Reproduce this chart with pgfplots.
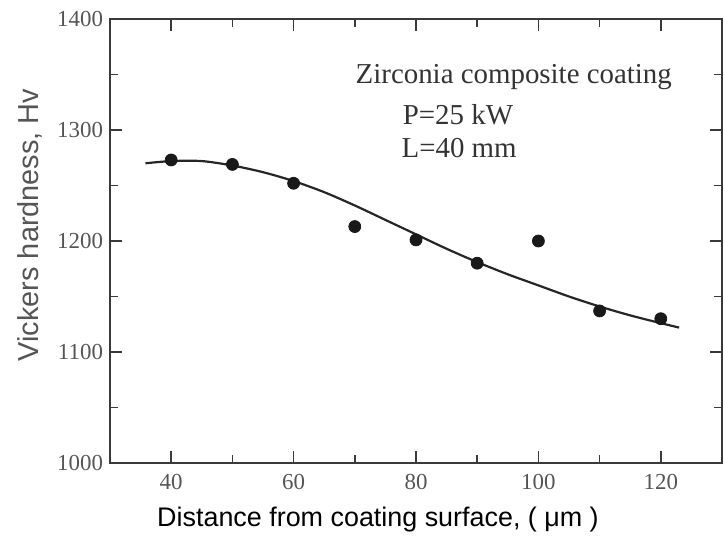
\documentclass[border=0pt]{standalone}
\usepackage{fontspec}
\setmainfont{Liberation Serif}
\newfontfamily\arial{Liberation Sans}
\usepackage{pgfplots}
\pgfplotsset{compat=1.18}
\usetikzlibrary{calc}
\definecolor{axgray}{HTML}{3A3A3A}
\definecolor{lblgray}{HTML}{555555}

\begin{document}
\begin{tikzpicture}
\begin{axis}[
  scale only axis,
  width=306bp, height=222bp,
  xmin=30, xmax=130, ymin=1000, ymax=1400,
  xtick={40,60,80,100,120}, minor xtick={50,70,90,110},
  ytick={1000,1100,1200,1300,1400}, minor ytick={1050,1150,1250,1350},
  tick align=inside,
  major tick length=6bp, minor tick length=4bp,
  axis line style={axgray, line width=0.9pt},
  every tick/.style={axgray, line width=0.8pt},
  tick label style={font=\fontsize{11.5}{13}\selectfont, text=lblgray},
  /pgf/number format/assume math mode=true,
  /pgf/number format/1000 sep={},
  xticklabel style={yshift=-2bp},
  clip=false,
]
% fitted curve
\addplot[smooth, tension=0.5, black!85, line width=1.1pt] coordinates {
  (35.8,1270) (40,1272) (45,1272) (50,1268) (55,1262) (60,1254)
  (65,1244) (70,1232) (75,1219) (80,1206) (85,1193) (90,1181)
  (95,1170) (100,1160) (105,1150) (110,1141) (115,1133) (120,1126)
  (123,1122)
};
% measured hardness
\addplot[only marks, mark=*, mark size=3pt, black!90] coordinates {
  (40,1273) (50,1269) (60,1252) (70,1213) (80,1201)
  (90,1180) (100,1200) (110,1137) (120,1130)
};
\node[anchor=base west, text=black!80, font=\fontsize{14.5}{16}\selectfont] at (axis cs:69,1342) {Zirconia composite coating};
\node[anchor=base west, text=black!80, font=\fontsize{14.5}{16}\selectfont] at (axis cs:76.7,1305) {P=25 kW};
\node[anchor=base west, text=black!80, font=\fontsize{14.5}{16}\selectfont] at (axis cs:76.5,1275) {L=40 mm};
\end{axis}
\node[font=\arial\fontsize{13.5}{15}\selectfont] at ($(current axis.south west)+(134bp,-28.5bp)$) {Distance from coating surface, ( μm )};
\node[rotate=90, text=lblgray, font=\arial\fontsize{14.5}{16}\selectfont] at ($(current axis.south west)+(-40bp,119bp)$) {Vickers hardness, Hv};
\pgfresetboundingbox
\path[use as bounding box] ($(current axis.south west)+(-55bp,-37bp)$) rectangle ($(current axis.south west)+(307bp,231.5bp)$);
\end{tikzpicture}
\end{document}
